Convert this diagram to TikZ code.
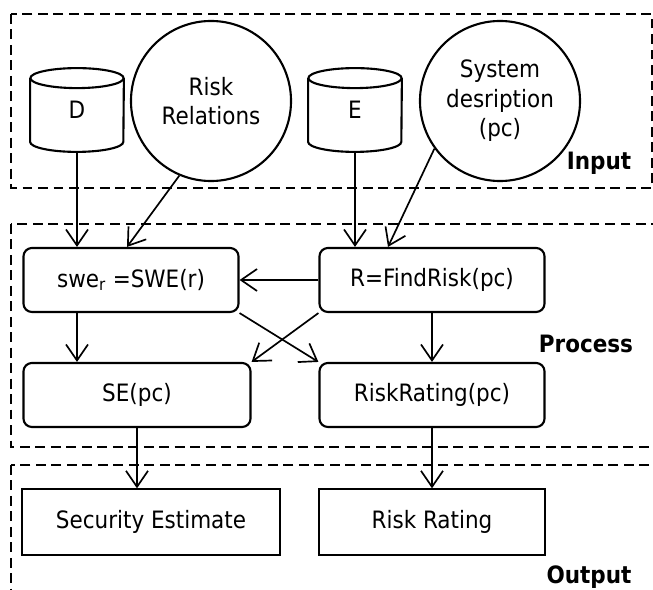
\documentclass[tikz,border=0pt]{standalone}
\usepackage{fontspec}
\setmainfont{DejaVu Sans Condensed}
\usetikzlibrary{arrows.meta,shapes.geometric}

\begin{document}
\begin{tikzpicture}[
  x=0.025cm, y=-0.025cm,
  font=\fontsize{17}{21}\selectfont,
  >={Straight Barb[length=4mm,width=5.5mm]},
  block/.style={draw=black, line width=1.5pt, rounded corners=6pt, align=center,
    minimum height=1.6cm, inner sep=2pt},
  outbox/.style={draw=black, line width=1.5pt, align=center,
    minimum height=1.63cm, inner sep=2pt},
  store/.style={minimum width=2.33cm, minimum height=2.08cm, inner sep=0pt},
  rim/.style={line width=1.5pt},
  source/.style={draw=black, line width=1.5pt, circle, align=center,
    minimum size=4cm, inner sep=0pt},
  panel/.style={dash pattern=on 7pt off 4pt, line width=1.5pt},
  flow/.style={->, line width=1.2pt},
  lbl/.style={font=\fontsize{17}{20}\selectfont\bfseries}
]
  \useasboundingbox (0,0) rectangle (653,590);

  % panels
  \draw[panel] (11,14) rectangle (652,188);
  \draw[panel] (11,224) rectangle (670,447);
  \draw[panel] (11,465) rectangle (670,620);
  \node[lbl] (inlbl) at (599,163) {Input};
  \node[lbl] (prlbl) at (586,344) {Process};
  \node[lbl] (outlbl) at (589,577) {Output};

  % inputs
  \node[store] (d) at (77,110) {D};
  \node[source] (rel) at (211,101) {Risk\\Relations};
  \node[store] (e) at (355,110) {E};
  \node[source] (sys) at (500,101) {System\\desription\\(pc)};
  \foreach \c in {d,e} {
    \draw[rim] ([yshift=-0.25cm]\c.north) ellipse [x radius=1.165cm, y radius=0.25cm];
    \draw[rim] ([yshift=-0.25cm]\c.north west) -- ([yshift=0.25cm]\c.south west)
      arc [start angle=180, end angle=360, x radius=1.165cm, y radius=0.25cm]
      -- ([yshift=-0.25cm]\c.north east);
  }

  % process
  \node[block, minimum width=5.375cm] (sw) at (131,280) {swe\textsubscript{r} =SWE(r)};
  \node[block, minimum width=5.625cm] (fr) at (432,280) {R=FindRisk(pc)};
  \node[block, minimum width=5.675cm] (se) at (137,395) {SE(pc)};
  \node[block, minimum width=5.625cm] (rr) at (432,395) {RiskRating(pc)};

  % output
  \node[outbox, minimum width=6.43cm] (sec) at (151,522) {Security Estimate};
  \node[outbox, minimum width=5.63cm] (rate) at (432,522) {Risk Rating};

  \draw[flow] (d.south) -- (d.south |- sw.north);
  \draw[flow] (rel.247) -- ([xshift=-0.1cm]sw.north);
  \draw[flow] (e.south) -- (e.south |- fr.north);
  \draw[flow] (sys.216) -- ([xshift=-1.1cm]fr.north);
  \draw[flow] (fr.west) -- (sw.east);
  \draw[flow] (sw.south east) -- (rr.north west);
  \draw[flow] (fr.south west) -- (se.north east);
  \draw[flow] (d.south |- sw.south) -- (d.south |- se.north);
  \draw[flow] (fr.south) -- (rr.north);
  \draw[flow] (se.south) -- (se.south |- sec.north);
  \draw[flow] (rr.south) -- (rate.north);
\end{tikzpicture}
\end{document}
